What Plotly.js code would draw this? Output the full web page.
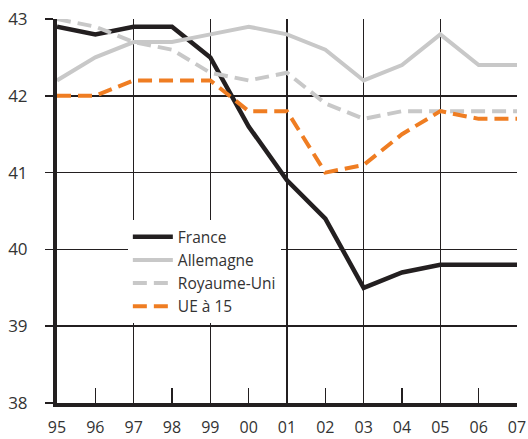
<!DOCTYPE html>
<html>
<head>
<meta charset="utf-8">
<script src="https://cdn.plot.ly/plotly-3.0.1.min.js"></script>
<style>html,body{margin:0;padding:0;background:#fff;}#chart{width:528px;height:439px;}</style>
</head>
<body>
<div id="chart"></div>
<script>
const years = ['95','96','97','98','99','00','01','02','03','04','05','06','07'];
const france = [42.9,42.8,42.9,42.9,42.5,41.6,40.9,40.4,39.5,39.7,39.8,39.8,39.8];
const allemagne = [42.2,42.5,42.7,42.7,42.8,42.9,42.8,42.6,42.2,42.4,42.8,42.4,42.4];
const royaumeUni = [43.0,42.9,42.7,42.6,42.3,42.2,42.3,41.9,41.7,41.8,41.8,41.8,41.8];
const ue15 = [42.0,42.0,42.2,42.2,42.2,41.8,41.8,41.0,41.1,41.5,41.8,41.7,41.7];
const yTicks = [38,39,40,41,42,43];

const idx = years.map((_, i) => i);
const gridIdx = idx.filter(i => i % 2 === 0);
const FONT = '"Open Sans", Lato, sans-serif';

const traces = [
  {x: idx, y: france, name: 'France', mode: 'lines', line: {color: '#231f20', width: 4.5}},
  {x: idx, y: allemagne, name: 'Allemagne', mode: 'lines', line: {color: '#c8c8c8', width: 4}},
  {x: idx, y: royaumeUni, name: 'Royaume-Uni', mode: 'lines', line: {color: '#c8c8c8', width: 4, dash: '14px,7px'}},
  {x: idx, y: ue15, name: 'UE à 15', mode: 'lines', line: {color: '#ef7d22', width: 4, dash: '14px,7px'}}
];

const layout = {
  width: 528, height: 439,
  margin: {l: 57, r: 11, t: 19, b: 36},
  paper_bgcolor: '#fff', plot_bgcolor: '#fff',
  font: {family: FONT, size: 17, color: '#333'},
  showlegend: true,
  legend: {
    x: 0.154, y: 0.476, xanchor: 'left', yanchor: 'top',
    bgcolor: '#fff', borderwidth: 0,
    font: {family: FONT, size: 15.5, color: '#333'},
    itemwidth: 40, tracegroupgap: 0
  },
  xaxis: {
    type: 'linear', range: [0, 12], fixedrange: true,
    tickmode: 'array', tickvals: idx, ticktext: years,
    tickfont: {family: FONT, size: 16, color: '#333'},
    ticks: 'inside', ticklen: 15, tickwidth: 1.5, tickcolor: '#231f20',
    showgrid: false, zeroline: false,
    showline: true, linewidth: 4, linecolor: '#231f20',
    ticklabelstandoff: 7,
    minor: {tickmode: 'array', tickvals: gridIdx, showgrid: true, gridcolor: '#231f20', gridwidth: 1.5, ticks: ''}
  },
  yaxis: {
    range: [38, 43], fixedrange: true,
    tickmode: 'array', tickvals: yTicks,
    tickfont: {family: FONT, size: 17, color: '#333'},
    ticks: 'outside', ticklen: 8, tickwidth: 1.5, tickcolor: '#231f20',
    showgrid: true, gridcolor: '#231f20', gridwidth: 1.5,
    zeroline: false,
    showline: true, linewidth: 4, linecolor: '#231f20',
    ticklabelstandoff: 14
  }
};

Plotly.newPlot('chart', traces, layout, {displayModeBar: false, staticPlot: true});
</script>
</body>
</html>
